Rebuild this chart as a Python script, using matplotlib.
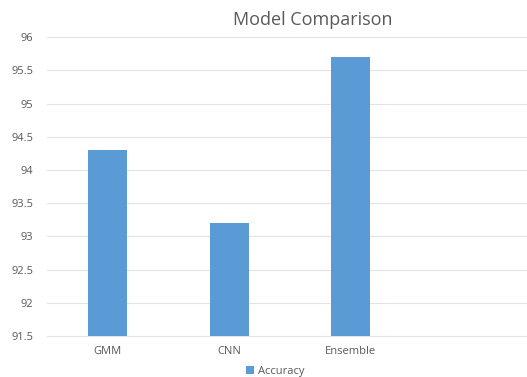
import numpy as np
import matplotlib
matplotlib.use("Agg")
import matplotlib.pyplot as plt
from matplotlib.ticker import MultipleLocator
from matplotlib.patches import Patch

## model accuracy values
models   = ['GMM', 'CNN', 'Ensemble']
accuracy = [94.3, 93.2, 95.7]

bar_color  = '#5b9bd5'
text_color = '#595959'
grid_color = '#e3e3e3'

plt.rcParams['font.family'] = ['Open Sans', 'DejaVu Sans']

fig = plt.figure(figsize=(5.27, 3.77), dpi=100, facecolor='w')
ax = fig.add_axes([0.089, 0.109, 0.911, 0.792])

x = np.arange(len(models))
ax.bar(x, accuracy, width=0.32, color=bar_color, zorder=3)

ax.set_xlim(-0.5, 3.45)
ax.set_ylim(91.5, 96)
ax.yaxis.set_major_locator(MultipleLocator(0.5))
ax.set_yticks(np.arange(91.5, 96.01, 0.5))
ax.set_yticklabels(['%g' % v for v in np.arange(91.5, 96.01, 0.5)])
ax.set_xticks(x)
ax.set_xticklabels(models)

ax.grid(axis='y', color=grid_color, linewidth=0.8, zorder=0)
for s in ['top', 'right', 'left']:
    ax.spines[s].set_visible(False)
ax.spines['bottom'].set_color(grid_color)
ax.spines['bottom'].set_linewidth(0.8)

ax.tick_params(axis='both', length=0, labelsize=8, labelcolor=text_color)
ax.tick_params(axis='y', pad=10)
ax.tick_params(axis='x', pad=7)

fig.text(0.593, 0.947, 'Model Comparison', ha='center', va='center',
         fontsize=13, color=text_color)

handles = [Patch(facecolor=bar_color, label='Accuracy')]
fig.legend(handles=handles, loc='center', bbox_to_anchor=(0.523, 0.014),
           frameon=False, fontsize=8, labelcolor=text_color,
           handlelength=0.7, handleheight=0.7, handletextpad=0.4)

plt.savefig('out.png', dpi=100)
